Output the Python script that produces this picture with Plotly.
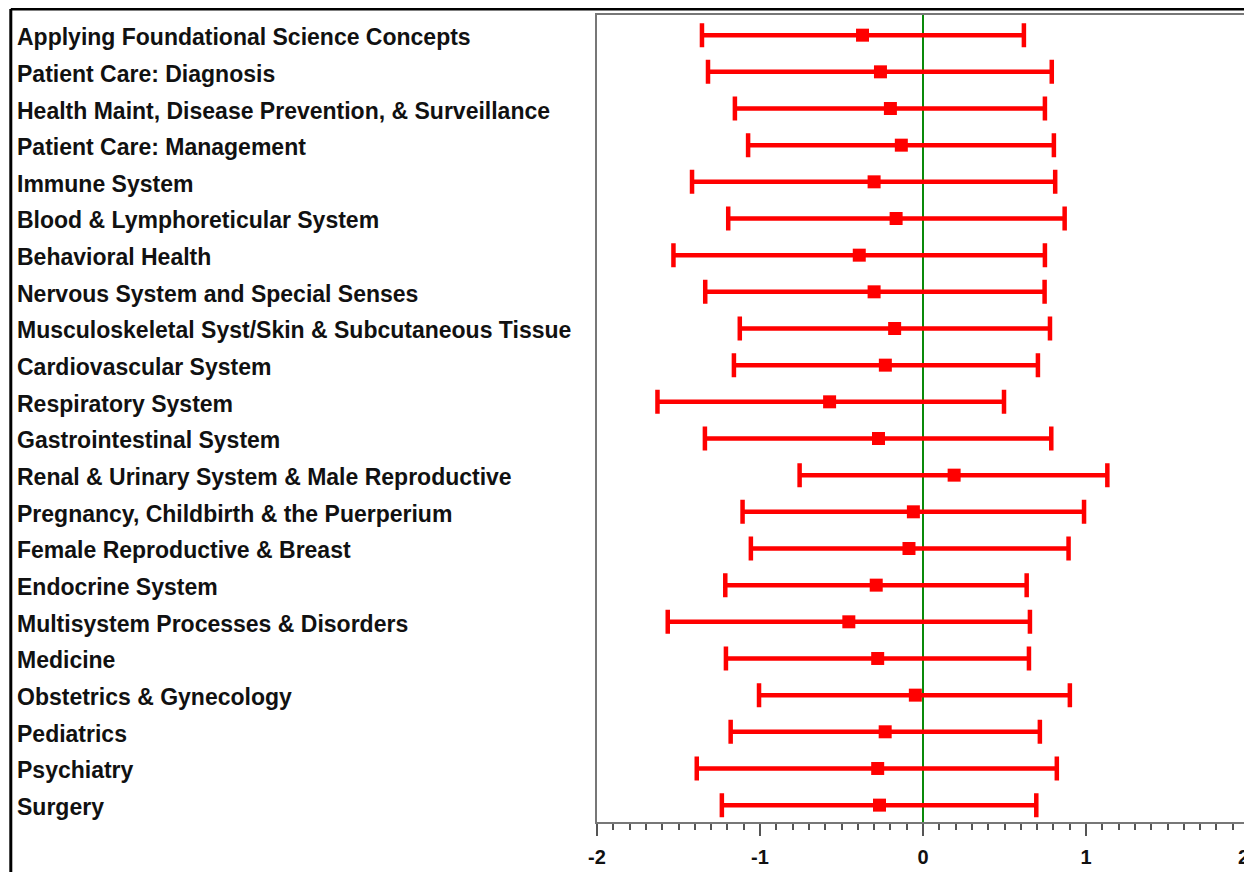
import plotly.graph_objects as go

categories = [
    "Applying Foundational Science Concepts",
    "Patient Care: Diagnosis",
    "Health Maint, Disease Prevention, & Surveillance",
    "Patient Care: Management",
    "Immune System",
    "Blood & Lymphoreticular System",
    "Behavioral Health",
    "Nervous System and Special Senses",
    "Musculoskeletal Syst/Skin & Subcutaneous Tissue",
    "Cardiovascular System",
    "Respiratory System",
    "Gastrointestinal System",
    "Renal & Urinary System & Male Reproductive",
    "Pregnancy, Childbirth & the Puerperium",
    "Female Reproductive & Breast",
    "Endocrine System",
    "Multisystem Processes & Disorders",
    "Medicine",
    "Obstetrics & Gynecology",
    "Pediatrics",
    "Psychiatry",
    "Surgery",
]
estimate = [-0.371, -0.261, -0.200, -0.133, -0.300, -0.165, -0.391, -0.300, -0.174, -0.231, -0.573,
            -0.273, 0.191, -0.059, -0.086, -0.287, -0.455, -0.278, -0.047, -0.232, -0.278, -0.267]
lower = [-1.356, -1.319, -1.154, -1.073, -1.417, -1.195, -1.531, -1.336, -1.124, -1.160, -1.629,
         -1.338, -0.757, -1.107, -1.056, -1.213, -1.566, -1.209, -1.006, -1.180, -1.388, -1.234]
upper = [0.619, 0.790, 0.748, 0.803, 0.811, 0.869, 0.748, 0.746, 0.779, 0.705, 0.497,
         0.787, 1.131, 0.988, 0.893, 0.636, 0.656, 0.650, 0.901, 0.717, 0.821, 0.695]
x_ticks = [-2, -1, 0, 1, 2]

rows = list(range(1, len(categories) + 1))
plus = [u - e for u, e in zip(upper, estimate)]
minus = [e - l for e, l in zip(estimate, lower)]

RED = "#ff0000"
TICKFONT = dict(family="Liberation Sans, Arial", size=20, color="#111", weight="bold")
fig = go.Figure()
fig.add_trace(go.Scatter(
    x=estimate, y=rows, mode="markers",
    marker=dict(symbol="square", size=13, color=RED),
    error_x=dict(type="data", symmetric=False, array=plus, arrayminus=minus,
                 color=RED, thickness=4.5, width=12),
    showlegend=False, hoverinfo="skip",
))

fig.add_shape(type="line", xref="x", yref="paper", x0=0, x1=0, y0=0, y1=1,
              line=dict(color="#0a8a0a", width=2), layer="below")

# page has an 8px body margin; the figure is sized to fit the window
W, H = 1244, 865
L, R, T, B = 589, 1, 7, 51
pw, ph = W - L - R, H - T - B

for i, c in enumerate(categories):
    fig.add_annotation(x=(5 - L) / pw, xref="paper", y=rows[i], yref="y",
                       text=c, showarrow=False, xanchor="left", yanchor="middle",
                       font=dict(family="Liberation Sans, Arial", size=23, color="#111",
                                 weight="bold"),
                       yshift=-2)

# last tick label (at the right edge, which plotly would hide)
fig.add_annotation(x=1 + 1 / pw, xref="paper", y=0, yref="paper",
                   text=str(x_ticks[-1]), showarrow=False, xanchor="right",
                   yanchor="middle", yshift=-35, font=TICKFONT, borderpad=0)

# outer frame lines
fig.add_shape(type="line", xref="paper", yref="paper",
              x0=(1 - L) / pw, x1=(W - L) / pw,
              y0=1 + 6 / ph, y1=1 + 6 / ph, line=dict(color="#000", width=3))
fig.add_shape(type="line", xref="paper", yref="paper",
              x0=(1 - L) / pw, x1=(1 - L) / pw,
              y0=1 + 6 / ph, y1=-(B - 1) / ph, line=dict(color="#000", width=3))

fig.update_layout(
    width=W, height=H,
    margin=dict(l=L, r=R, t=T, b=B),
    paper_bgcolor="white", plot_bgcolor="white",
    xaxis=dict(range=[-2, 2], tickvals=x_ticks, ticktext=[str(v) for v in x_ticks],
               showgrid=False, zeroline=False,
               showline=True, linecolor="#777", linewidth=2, mirror=True,
               ticks="outside", ticklen=12, tickwidth=2, tickcolor="#555",
               minor=dict(dtick=0.1, ticks="outside", ticklen=6, tickwidth=1.5,
                          tickcolor="#555", showgrid=False),
               tickfont=TICKFONT,
               ticklabelstandoff=4),
    yaxis=dict(range=[len(categories) + 0.46, 0.45], showticklabels=False,
               showgrid=False, zeroline=False, ticks="",
               showline=True, linecolor="#777", linewidth=2, mirror=True),
)

fig.write_html("out.html")
